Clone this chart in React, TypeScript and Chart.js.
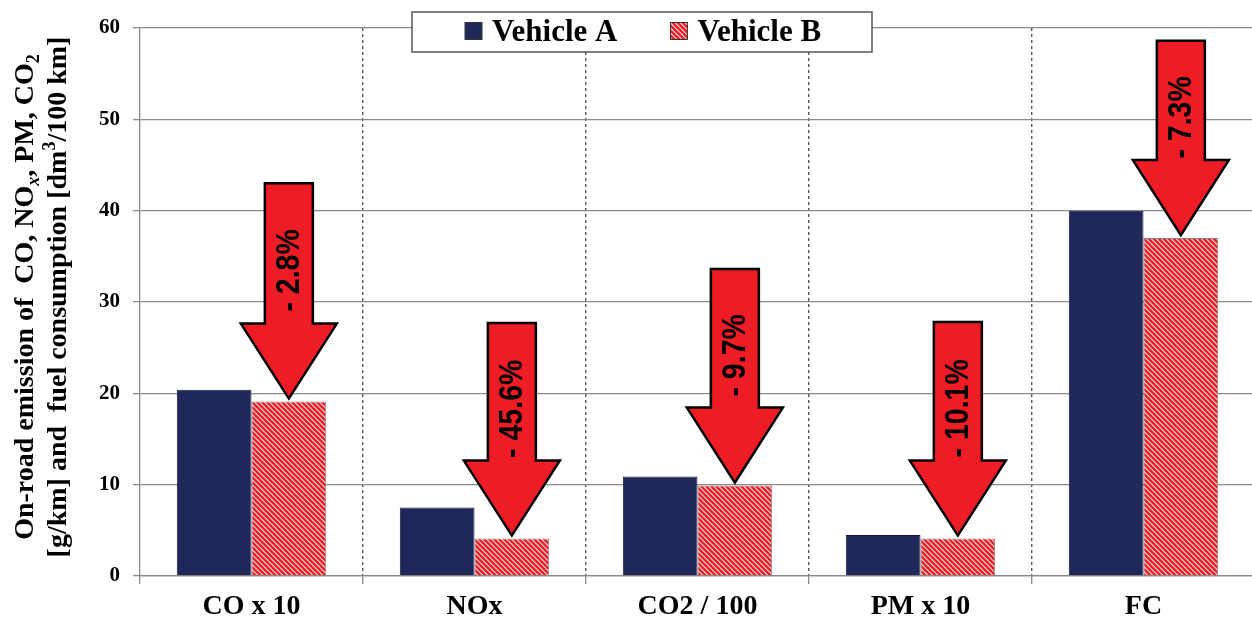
import React, { useEffect, useRef } from "react";
import { Chart, registerables } from "chart.js";

Chart.register(...registerables);

// ---------- data ----------
const categories = ["CO x 10", "NOx", "CO2 / 100", "PM x 10", "FC"];
const seriesNames = ["Vehicle A", "Vehicle B"];
const vehicleA = [20.4, 7.5, 10.9, 4.5, 40.0];
const vehicleB = [19.1, 4.1, 9.9, 4.1, 37.0];
const changeLabels = ["- 2.8%", "- 45.6%", "- 9.7%", "- 10.1%", "- 7.3%"];
const arrowTops = [43.0, 27.7, 33.6, 27.8, 58.6];
const yMin = 0;
const yMax = 60;
const yStep = 10;

type Seg = { t: string; sub?: boolean; sup?: boolean; italic?: boolean };
const titleLine1: Seg[] = [
  { t: "On-road emission of  CO, NO" },
  { t: "x", sub: true, italic: true },
  { t: ", PM, CO" },
  { t: "2", sub: true },
];
const titleLine2: Seg[] = [
  { t: "[g/km] and  fuel consumption [dm" },
  { t: "3", sup: true },
  { t: "/100 km]" },
];

// ---------- styles ----------
const SERIF = '"Liberation Serif", "Times New Roman", serif';
const SANS = '"Liberation Sans", Arial, sans-serif';
const NAVY = "#1f2858";
const ARROW_RED = "#ee1c25";

function makeHatch(): CanvasPattern | string {
  const s = 5;
  const c = document.createElement("canvas");
  c.width = s;
  c.height = s;
  const g = c.getContext("2d");
  if (!g) return "#f08080";
  g.fillStyle = "#fbd6d6";
  g.fillRect(0, 0, s, s);
  g.strokeStyle = "#e61f28";
  g.lineWidth = 2.4;
  g.beginPath();
  for (const o of [-s, 0, s]) {
    g.moveTo(o - 1, -1);
    g.lineTo(o + s + 1, s + 1);
  }
  g.stroke();
  const p = g.createPattern(c, "repeat");
  return p || "#f08080";
}

function drawSegLine(ctx: CanvasRenderingContext2D, segs: Seg[], cx: number, cy: number, size: number) {
  const small = Math.round(size * 0.64);
  const fontFor = (s: Seg) =>
    `${s.italic ? "italic " : ""}bold ${s.sub || s.sup ? small : size}px ${SERIF}`;
  let total = 0;
  for (const s of segs) {
    ctx.font = fontFor(s);
    total += ctx.measureText(s.t).width;
  }
  ctx.save();
  ctx.translate(cx, cy);
  ctx.rotate(-Math.PI / 2);
  ctx.textBaseline = "middle";
  ctx.textAlign = "left";
  ctx.fillStyle = "#000";
  let x = -total / 2;
  for (const s of segs) {
    ctx.font = fontFor(s);
    const dy = s.sub ? size * 0.3 : s.sup ? -size * 0.3 : 0;
    ctx.fillText(s.t, x, dy);
    x += ctx.measureText(s.t).width;
  }
  ctx.restore();
}

const arrowPlugin = {
  id: "arrows",
  afterDatasetsDraw(chart: any) {
    const ctx: CanvasRenderingContext2D = chart.ctx;
    const yScale = chart.scales.y;
    const metaB = chart.getDatasetMeta(1);
    const shaftHalf = 24;
    const headHalf = 48;
    const headLen = 75;
    changeLabels.forEach((label, i) => {
      const bar = metaB.data[i];
      if (!bar) return;
      const cx = bar.x;
      const tip = yScale.getPixelForValue(vehicleB[i]) - 3;
      const base = tip - headLen;
      const top = yScale.getPixelForValue(arrowTops[i]);
      ctx.save();
      ctx.beginPath();
      ctx.moveTo(cx - shaftHalf, top);
      ctx.lineTo(cx + shaftHalf, top);
      ctx.lineTo(cx + shaftHalf, base);
      ctx.lineTo(cx + headHalf, base);
      ctx.lineTo(cx, tip);
      ctx.lineTo(cx - headHalf, base);
      ctx.lineTo(cx - shaftHalf, base);
      ctx.closePath();
      ctx.fillStyle = ARROW_RED;
      ctx.fill();
      ctx.lineWidth = 2.5;
      ctx.lineJoin = "miter";
      ctx.strokeStyle = "#000";
      ctx.stroke();
      ctx.translate(cx, (top + base) / 2 + 17);
      ctx.rotate(-Math.PI / 2);
      ctx.scale(0.95, 1.08);
      ctx.font = `bold 30px ${SANS}`;
      ctx.textAlign = "center";
      ctx.textBaseline = "middle";
      ctx.fillStyle = "#000";
      ctx.fillText(label, 0, 1);
      ctx.restore();
    });
  },
};

const decorPlugin = {
  id: "decor",
  afterDraw(chart: any) {
    const ctx: CanvasRenderingContext2D = chart.ctx;
    // legend box
    const bx = 412, by = 12, bw = 460, bh = 40;
    ctx.save();
    ctx.fillStyle = "#fff";
    ctx.fillRect(bx, by, bw, bh);
    ctx.lineWidth = 1.5;
    ctx.strokeStyle = "#555";
    ctx.strokeRect(bx, by, bw, bh);
    const marker = 17;
    let x = bx + 53;
    const cy = by + bh / 2;
    ctx.font = `bold 31px ${SERIF}`;
    ctx.textBaseline = "middle";
    ctx.textAlign = "left";
    chart.data.datasets.forEach((ds: any) => {
      ctx.fillStyle = ds.backgroundColor;
      ctx.fillRect(x, cy - marker / 2 - 1, marker, marker);
      ctx.lineWidth = 1;
      ctx.strokeStyle = "#333";
      ctx.strokeRect(x, cy - marker / 2 - 1, marker, marker);
      ctx.fillStyle = "#000";
      ctx.fillText(ds.label, x + 27, cy + 1);
      x += 27 + ctx.measureText(ds.label).width + 53;
    });
    ctx.restore();
    // y axis title
    drawSegLine(ctx, titleLine1, 26, 297, 28);
    drawSegLine(ctx, titleLine2, 59, 297, 28);
  },
};

export default function App() {
  const ref = useRef<HTMLCanvasElement | null>(null);
  useEffect(() => {
    if (!ref.current) return;
    const hatch = makeHatch();
    const chart = new Chart(ref.current, {
      type: "bar",
      data: {
        labels: categories,
        datasets: [
          {
            label: seriesNames[0],
            data: vehicleA,
            backgroundColor: NAVY,
            borderColor: "#151b3d",
            borderWidth: 1,
            barPercentage: 1,
            categoryPercentage: 0.67,
          },
          {
            label: seriesNames[1],
            data: vehicleB,
            backgroundColor: hatch as any,
            borderColor: "#888",
            borderWidth: 1,
            barPercentage: 1,
            categoryPercentage: 0.67,
          },
        ],
      },
      options: {
        responsive: false,
        animation: false,
        devicePixelRatio: 1,
        layout: { padding: { left: 0, right: 1, top: 28, bottom: 0 } },
        plugins: {
          legend: { display: false },
          tooltip: { enabled: false },
          title: { display: false },
        },
        scales: {
          x: {
            offset: true,
            grid: {
              offset: true,
              color: (c: any) => (c.index === 0 ? "rgba(0,0,0,0)" : "#555"),
              lineWidth: 1.4,
              tickColor: "#888",
              tickWidth: 1.3,
              tickLength: 8,
              tickBorderDash: [],
            } as any,
            border: { display: true, color: "#888", width: 1.3, dash: [3, 3] },
            ticks: {
              color: "#000",
              font: { family: SERIF, size: 28, weight: "bold" },
              padding: 6,
              maxRotation: 0,
              autoSkip: false,
            },
            afterFit: (s: any) => {
              s.height = 47;
            },
          },
          y: {
            min: yMin,
            max: yMax,
            ticks: {
              stepSize: yStep,
              color: "#000",
              font: { family: SERIF, size: 21, weight: "bold" },
              padding: 13,
            },
            grid: { color: "#8a8a8a", lineWidth: 1.3, tickLength: 7 },
            border: { display: true, color: "#888", width: 1.3 },
            afterFit: (s: any) => {
              s.width = 140;
            },
          },
        },
      },
      plugins: [arrowPlugin, decorPlugin],
    });
    return () => chart.destroy();
  }, []);
  return (
    <div
      style={{
        position: "fixed",
        left: 0,
        top: 0,
        width: 1252,
        height: 623,
        overflow: "hidden",
        background: "#fff",
      }}
    >
      <canvas ref={ref} width={1256} height={623} style={{ display: "block", width: 1256, height: 623 }} />
    </div>
  );
}
